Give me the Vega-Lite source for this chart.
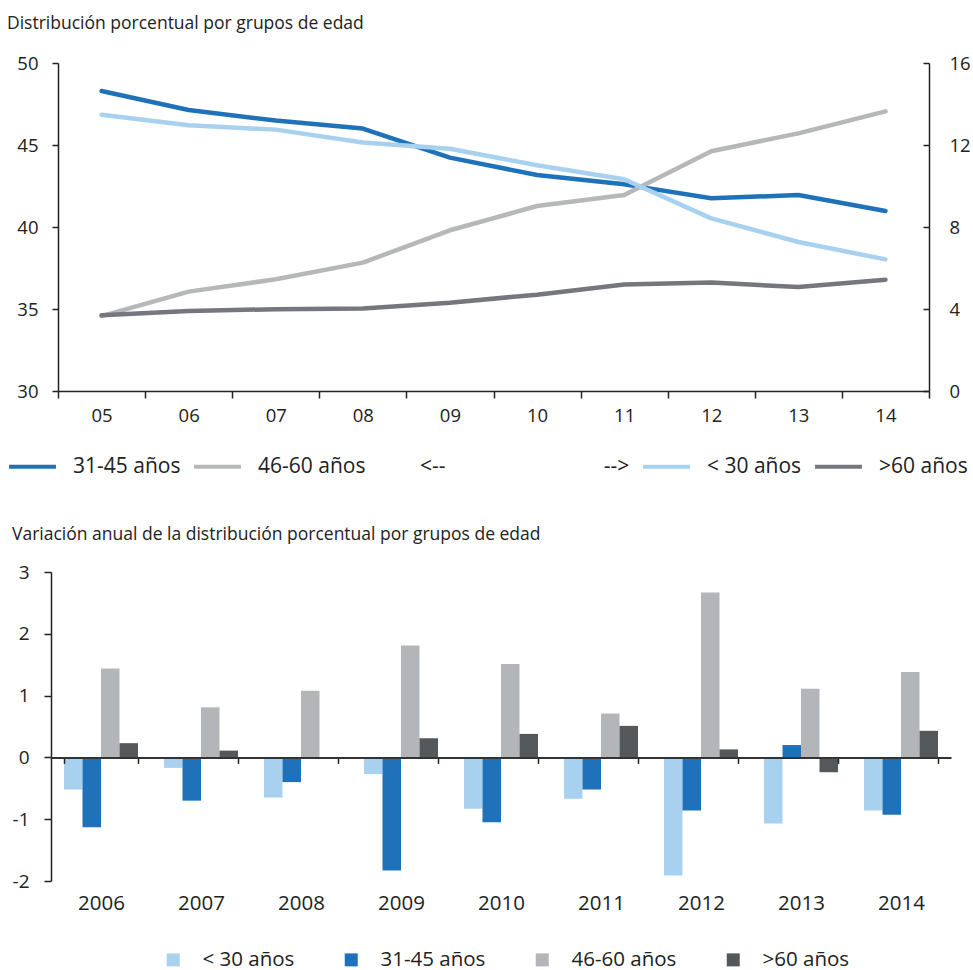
{
  "$schema": "https://vega.github.io/schema/vega-lite/v6.json",
  "background": "white",
  "padding": {"left": 7, "top": 14, "right": 0, "bottom": 0},
  "spacing": 48,
  "config": {
    "font": "Open Sans",
    "view": {"stroke": null},
    "axis": {"labelFont": "Open Sans", "labelColor": "#222", "domainColor": "#222", "tickColor": "#222", "grid": false, "title": null, "labelFontSize": 18.5, "domainWidth": 1.5, "tickWidth": 1.5},
    "title": {"font": "Open Sans", "fontSize": 17.5, "fontWeight": "normal", "color": "#222", "anchor": "start"},
    "legend": {"labelFont": "Open Sans", "labelColor": "#222", "labelFontSize": 21}
  },
  "resolve": {"scale": {"color": "independent"}},
  "vconcat": [
    {
      "title": {"text": "Distribución porcentual por grupos de edad", "offset": 22},
      "width": 871,
      "height": 328,
      "data": {"values": [
        {"anio": "05", "serie": "31-45 años", "eje": "izq", "valor": 48.29},
        {"anio": "06", "serie": "31-45 años", "eje": "izq", "valor": 47.13},
        {"anio": "07", "serie": "31-45 años", "eje": "izq", "valor": 46.49},
        {"anio": "08", "serie": "31-45 años", "eje": "izq", "valor": 46.0},
        {"anio": "09", "serie": "31-45 años", "eje": "izq", "valor": 44.23},
        {"anio": "10", "serie": "31-45 años", "eje": "izq", "valor": 43.17},
        {"anio": "11", "serie": "31-45 años", "eje": "izq", "valor": 42.6},
        {"anio": "12", "serie": "31-45 años", "eje": "izq", "valor": 41.75},
        {"anio": "13", "serie": "31-45 años", "eje": "izq", "valor": 41.95},
        {"anio": "14", "serie": "31-45 años", "eje": "izq", "valor": 40.98},
        {"anio": "05", "serie": "46-60 años", "eje": "izq", "valor": 34.57},
        {"anio": "06", "serie": "46-60 años", "eje": "izq", "valor": 36.06},
        {"anio": "07", "serie": "46-60 años", "eje": "izq", "valor": 36.81},
        {"anio": "08", "serie": "46-60 años", "eje": "izq", "valor": 37.83},
        {"anio": "09", "serie": "46-60 años", "eje": "izq", "valor": 39.8},
        {"anio": "10", "serie": "46-60 años", "eje": "izq", "valor": 41.28},
        {"anio": "11", "serie": "46-60 años", "eje": "izq", "valor": 41.95},
        {"anio": "12", "serie": "46-60 años", "eje": "izq", "valor": 44.62},
        {"anio": "13", "serie": "46-60 años", "eje": "izq", "valor": 45.71},
        {"anio": "14", "serie": "46-60 años", "eje": "izq", "valor": 47.05},
        {"anio": "05", "serie": "< 30 años", "eje": "der", "valor": 13.48},
        {"anio": "06", "serie": "< 30 años", "eje": "der", "valor": 12.96},
        {"anio": "07", "serie": "< 30 años", "eje": "der", "valor": 12.75},
        {"anio": "08", "serie": "< 30 años", "eje": "der", "valor": 12.12},
        {"anio": "09", "serie": "< 30 años", "eje": "der", "valor": 11.82},
        {"anio": "10", "serie": "< 30 años", "eje": "der", "valor": 11.01},
        {"anio": "11", "serie": "< 30 años", "eje": "der", "valor": 10.33},
        {"anio": "12", "serie": "< 30 años", "eje": "der", "valor": 8.42},
        {"anio": "13", "serie": "< 30 años", "eje": "der", "valor": 7.27},
        {"anio": "14", "serie": "< 30 años", "eje": "der", "valor": 6.42},
        {"anio": "05", "serie": ">60 años", "eje": "der", "valor": 3.69},
        {"anio": "06", "serie": ">60 años", "eje": "der", "valor": 3.9},
        {"anio": "07", "serie": ">60 años", "eje": "der", "valor": 3.99},
        {"anio": "08", "serie": ">60 años", "eje": "der", "valor": 4.02},
        {"anio": "09", "serie": ">60 años", "eje": "der", "valor": 4.31},
        {"anio": "10", "serie": ">60 años", "eje": "der", "valor": 4.7},
        {"anio": "11", "serie": ">60 años", "eje": "der", "valor": 5.2},
        {"anio": "12", "serie": ">60 años", "eje": "der", "valor": 5.29},
        {"anio": "13", "serie": ">60 años", "eje": "der", "valor": 5.07},
        {"anio": "14", "serie": ">60 años", "eje": "der", "valor": 5.43}
      ]},
      "encoding": {
        "x": {"field": "anio", "type": "ordinal", "scale": {"type": "band", "paddingInner": 0, "paddingOuter": 0},
              "axis": {"labelAngle": 0, "tickBand": "extent", "tickSize": 7, "labelPadding": 8, "labelFontSize": 18.5}},
        "color": {"field": "serie", "type": "nominal",
                  "scale": {"domain": ["31-45 años", "46-60 años", "< 30 años", ">60 años"], "range": ["#1f72b9", "#b5b7b9", "#a8d1f0", "#76777e"]},
                  "legend": {"title": null, "orient": "none", "legendX": -51, "legendY": 378, "direction": "horizontal",
                             "symbolType": "stroke", "symbolSize": 2200, "symbolStrokeWidth": 4, "labelFontSize": 21,
                             "labelOffset": 15, "columnPadding": 5, "labelLimit": 600,
                             "labelExpr": "datum.label == '46-60 años' ? '46-60 años\u00a0\u00a0\u00a0\u00a0\u00a0\u00a0\u00a0\u00a0\u00a0\u00a0<--\u00a0\u00a0\u00a0\u00a0\u00a0\u00a0\u00a0\u00a0\u00a0\u00a0\u00a0\u00a0\u00a0\u00a0\u00a0\u00a0\u00a0\u00a0\u00a0\u00a0\u00a0\u00a0\u00a0\u00a0\u00a0\u00a0\u00a0\u00a0\u00a0-->\u00a0' : datum.label"}}
      },
      "layer": [
        {
          "transform": [{"filter": "datum.eje == 'izq'"}],
          "mark": {"type": "line", "strokeWidth": 4.5, "strokeCap": "round", "strokeJoin": "round"},
          "encoding": {
            "y": {"field": "valor", "type": "quantitative", "scale": {"domain": [30, 50], "zero": false, "nice": false},
                  "axis": {"orient": "left", "values": [30, 35, 40, 45, 50], "tickSize": 6, "labelPadding": 14, "minExtent": 49}}
          }
        },
        {
          "transform": [{"filter": "datum.eje == 'der'"}],
          "mark": {"type": "line", "strokeWidth": 4.5, "strokeCap": "round", "strokeJoin": "round"},
          "encoding": {
            "y": {"field": "valor", "type": "quantitative", "scale": {"domain": [0, 16], "nice": false},
                  "axis": {"orient": "right", "values": [0, 4, 8, 12, 16], "tickSize": -6, "labelPadding": 26}}
          }
        }
      ],
      "resolve": {"scale": {"y": "independent"}}
    },
    {
      "title": {"text": "Variación anual de la distribución porcentual por grupos de edad", "offset": 20},
      "width": 893,
      "height": 309,
      "data": {"values": [
        {"anio": "2006", "grupo": "< 30 años", "valor": -0.52},
        {"anio": "2006", "grupo": "31-45 años", "valor": -1.13},
        {"anio": "2006", "grupo": "46-60 años", "valor": 1.44},
        {"anio": "2006", "grupo": ">60 años", "valor": 0.23},
        {"anio": "2007", "grupo": "< 30 años", "valor": -0.17},
        {"anio": "2007", "grupo": "31-45 años", "valor": -0.7},
        {"anio": "2007", "grupo": "46-60 años", "valor": 0.81},
        {"anio": "2007", "grupo": ">60 años", "valor": 0.11},
        {"anio": "2008", "grupo": "< 30 años", "valor": -0.65},
        {"anio": "2008", "grupo": "31-45 años", "valor": -0.4},
        {"anio": "2008", "grupo": "46-60 años", "valor": 1.08},
        {"anio": "2008", "grupo": ">60 años", "valor": -0.01},
        {"anio": "2009", "grupo": "< 30 años", "valor": -0.27},
        {"anio": "2009", "grupo": "31-45 años", "valor": -1.83},
        {"anio": "2009", "grupo": "46-60 años", "valor": 1.81},
        {"anio": "2009", "grupo": ">60 años", "valor": 0.31},
        {"anio": "2010", "grupo": "< 30 años", "valor": -0.83},
        {"anio": "2010", "grupo": "31-45 años", "valor": -1.05},
        {"anio": "2010", "grupo": "46-60 años", "valor": 1.51},
        {"anio": "2010", "grupo": ">60 años", "valor": 0.38},
        {"anio": "2011", "grupo": "< 30 años", "valor": -0.67},
        {"anio": "2011", "grupo": "31-45 años", "valor": -0.52},
        {"anio": "2011", "grupo": "46-60 años", "valor": 0.71},
        {"anio": "2011", "grupo": ">60 años", "valor": 0.51},
        {"anio": "2012", "grupo": "< 30 años", "valor": -1.91},
        {"anio": "2012", "grupo": "31-45 años", "valor": -0.86},
        {"anio": "2012", "grupo": "46-60 años", "valor": 2.67},
        {"anio": "2012", "grupo": ">60 años", "valor": 0.13},
        {"anio": "2013", "grupo": "< 30 años", "valor": -1.07},
        {"anio": "2013", "grupo": "31-45 años", "valor": 0.2},
        {"anio": "2013", "grupo": "46-60 años", "valor": 1.11},
        {"anio": "2013", "grupo": ">60 años", "valor": -0.24},
        {"anio": "2014", "grupo": "< 30 años", "valor": -0.86},
        {"anio": "2014", "grupo": "31-45 años", "valor": -0.93},
        {"anio": "2014", "grupo": "46-60 años", "valor": 1.38},
        {"anio": "2014", "grupo": ">60 años", "valor": 0.43}
      ]},
      "mark": {"type": "bar"},
      "encoding": {
        "x": {"field": "anio", "type": "ordinal", "scale": {"range": [-7, 893], "paddingInner": 0.26, "paddingOuter": 0.13},
              "axis": {"labelAngle": 0, "tickBand": "extent", "tickSize": 6, "offset": -123.6, "labelPadding": 130,
                       "labelFontSize": 20.5, "domainWidth": 2, "domainColor": "#333", "zindex": 1}},
        "xOffset": {"field": "grupo", "type": "nominal", "scale": {"domain": ["< 30 años", "31-45 años", "46-60 años", ">60 años"]}},
        "y": {"field": "valor", "type": "quantitative", "scale": {"domain": [-2, 3], "nice": false, "zero": false},
              "axis": {"values": [-2, -1, 0, 1, 2, 3], "offset": 7, "tickSize": 7, "labelPadding": 15, "minExtent": 0, "labelFontSize": 19, "labelExpr": "'' + datum.value"}},
        "color": {"field": "grupo", "type": "nominal",
                  "scale": {"domain": ["< 30 años", "31-45 años", "46-60 años", ">60 años"], "range": ["#a8d1f0", "#1f72b9", "#b3b5b8", "#54585b"]},
                  "legend": {"title": null, "orient": "none", "legendX": 105, "legendY": 377.5, "direction": "horizontal",
                             "symbolType": "square", "symbolSize": 169, "labelFontSize": 20.5, "labelOffset": 19,
                             "columnPadding": 46, "labelLimit": 300}}
      }
    }
  ]
}
